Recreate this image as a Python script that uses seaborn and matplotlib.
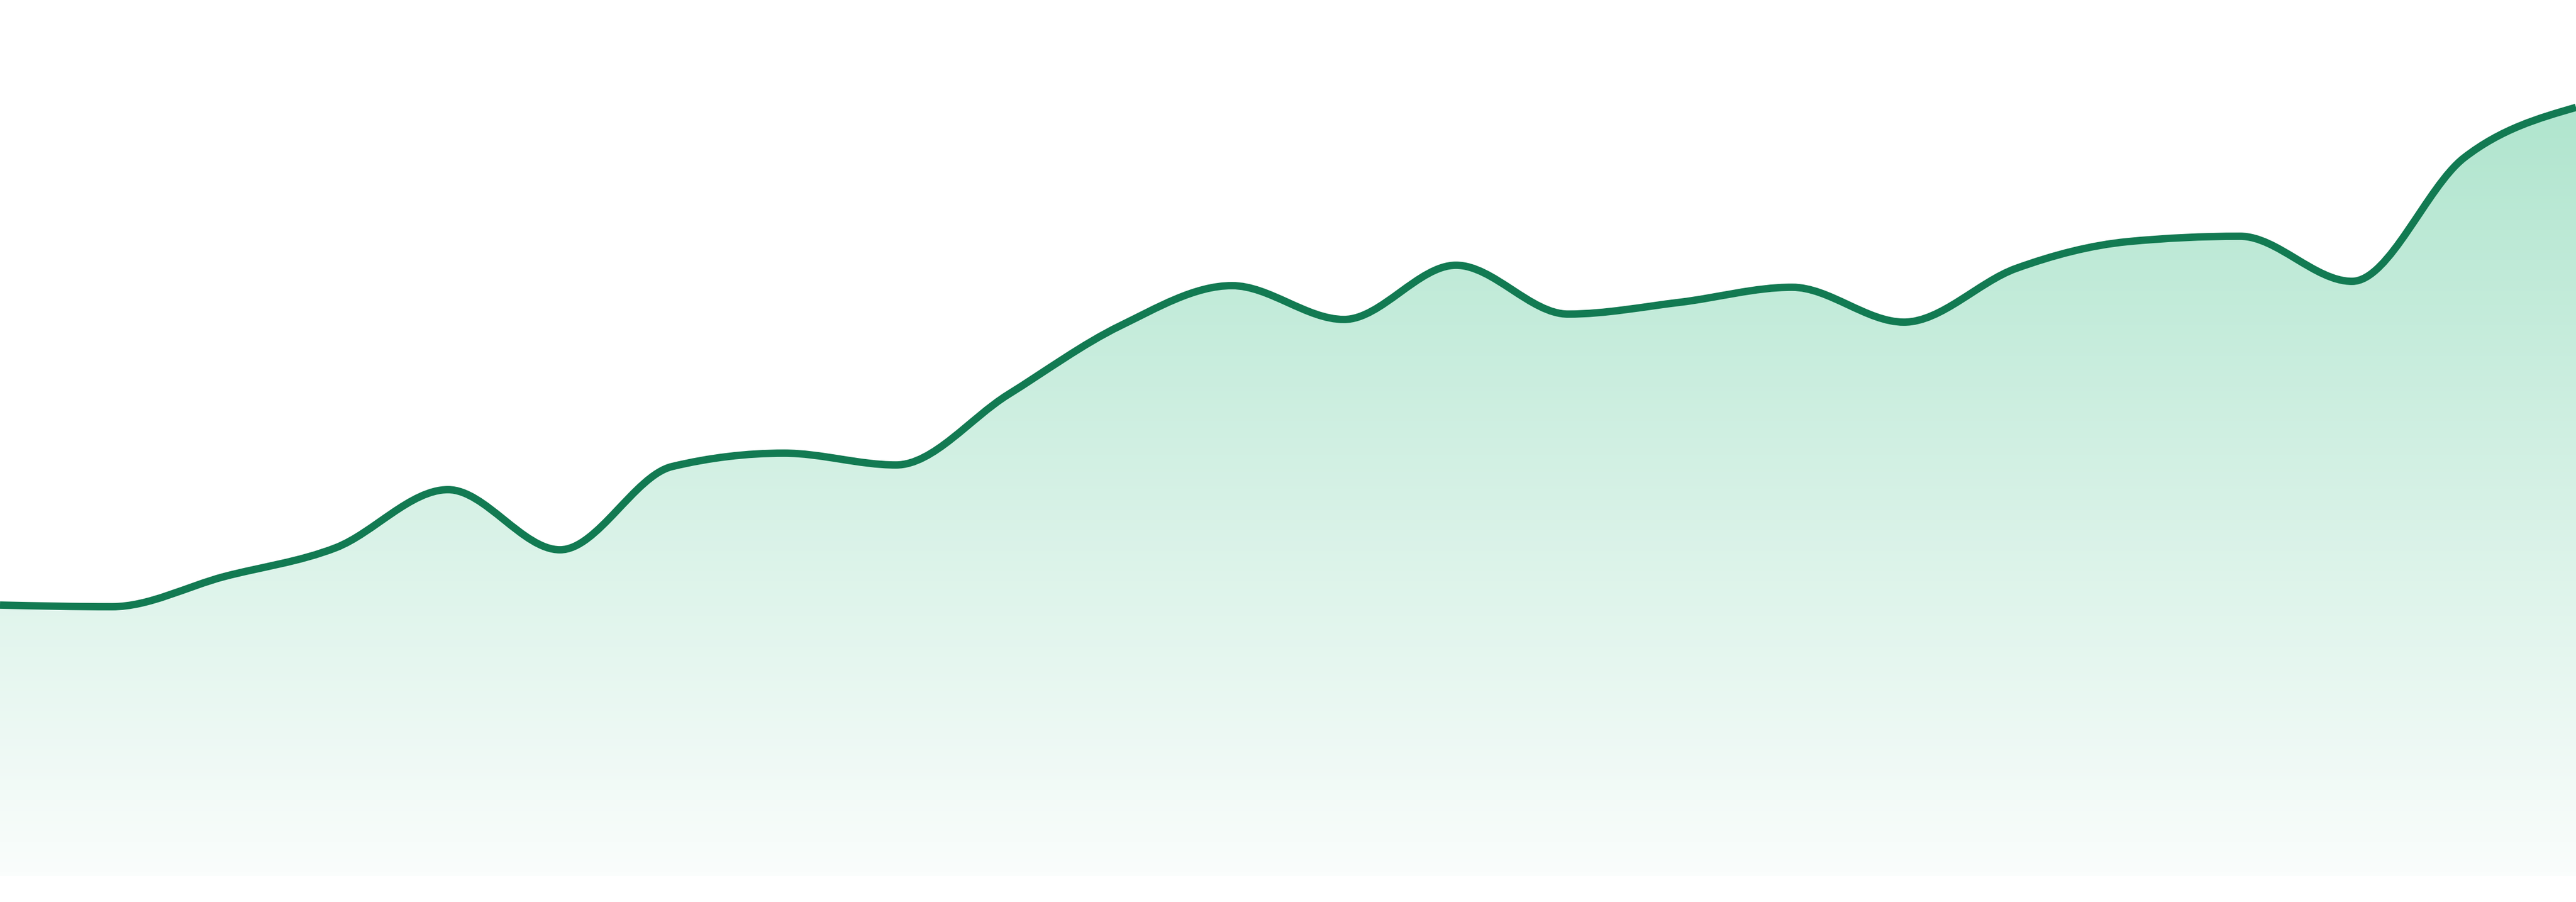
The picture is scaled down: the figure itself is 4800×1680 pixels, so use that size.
import numpy as np
import pandas as pd
import seaborn as sns
import matplotlib
matplotlib.use('Agg')
import matplotlib.pyplot as plt
from matplotlib.path import Path
from matplotlib.patches import PathPatch

# valeurs (une valeur par point, points régulièrement espacés)
periodes = list(range(24))
valeurs = [50.5, 50.2, 55.8, 61.2, 72.0, 60.8, 76.3, 78.8, 76.6, 89.7, 102.5, 110.0,
           103.7, 113.8, 104.7, 106.9, 109.7, 103.2, 113.2, 118.2, 119.2, 110.8, 133.8, 143.2]

couleur_ligne = '#127a52'
couleur_haut = '#a6e2c8'
couleur_bas = '#fafdfc'

df = pd.DataFrame({'periode': periodes, 'valeur': valeurs})

sns.set_theme(style='white')


def pentes_monotones(x, y):
    # pentes type "monotone X" (Fritsch-Carlson)
    h = np.diff(x)
    s = np.diff(y) / h
    t = np.zeros(len(x))
    for i in range(1, len(x) - 1):
        p = (s[i - 1] * h[i] + s[i] * h[i - 1]) / (h[i - 1] + h[i])
        sg = (1 if s[i - 1] >= 0 else -1) + (1 if s[i] >= 0 else -1)
        t[i] = sg * min(abs(s[i - 1]), abs(s[i]), 0.5 * abs(p))
    t[0] = (3 * s[0] - t[1]) / 2
    t[-1] = (3 * s[-1] - t[-2]) / 2
    return t


def chemin_courbe(x, y):
    t = pentes_monotones(x, y)
    verts = [(x[0], y[0])]
    codes = [Path.MOVETO]
    for i in range(len(x) - 1):
        dx = (x[i + 1] - x[i]) / 3
        verts += [(x[i] + dx, y[i] + dx * t[i]),
                  (x[i + 1] - dx, y[i + 1] - dx * t[i + 1]),
                  (x[i + 1], y[i + 1])]
        codes += [Path.CURVE4] * 3
    return verts, codes


x = df['periode'].to_numpy(dtype=float)
y = df['valeur'].to_numpy(dtype=float)
verts, codes = chemin_courbe(x, y)

fig = plt.figure(figsize=(16, 5.6), dpi=300)
ax = fig.add_axes([0, 48 / 1680, 1, 1632 / 1680])
ymax = 163.2
ax.set_xlim(x[0], x[-1])
ax.set_ylim(0, ymax)

# remplissage en dégradé sous la courbe
zone = PathPatch(Path([(x[0], 0)] + verts + [(x[-1], 0), (x[0], 0)],
                      [Path.MOVETO] + [Path.LINETO] + codes[1:] + [Path.LINETO, Path.CLOSEPOLY]),
                 facecolor='none', edgecolor='none')
ax.add_patch(zone)
cmap = sns.blend_palette([couleur_bas, couleur_haut], as_cmap=True)
grad = np.linspace(0, 1, 512).reshape(-1, 1)
img = ax.imshow(grad, cmap=cmap, aspect='auto', origin='lower',
                extent=[x[0], x[-1], 0, ymax], interpolation='bicubic', zorder=1)
img.set_clip_path(zone)

# la courbe
ligne = PathPatch(Path(verts, codes), facecolor='none', edgecolor=couleur_ligne,
                  linewidth=3.3, joinstyle='round', capstyle='butt', zorder=3)
ax.add_patch(ligne)

ax.set_axis_off()
sns.despine(left=True, bottom=True)

fig.savefig('out.png', dpi=300, facecolor='white')
